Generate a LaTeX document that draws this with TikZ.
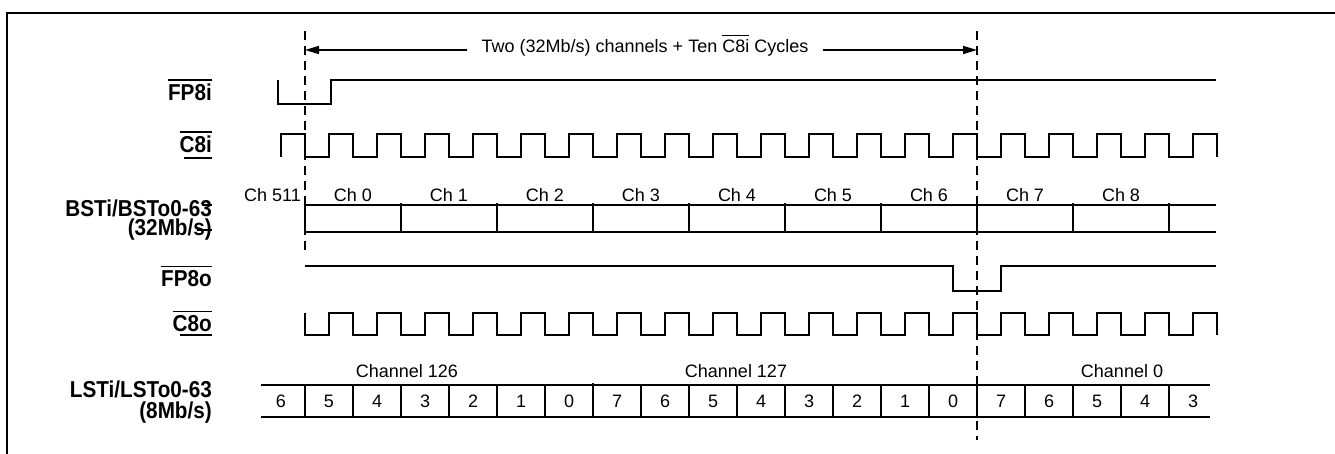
\documentclass[tikz,border=0pt]{standalone}
\usepackage{fontspec}
\setmainfont{Liberation Sans}
\newfontfamily\sigfont[FakeStretch=0.9]{Liberation Sans}
\usetikzlibrary{arrows.meta,positioning}

% overlined signal names
\newcommand{\barred}[2][1.9bp]{\leavevmode\vbox{\hrule height #1\kern 3.5bp\hbox{#2}}}

\begin{document}
\begin{tikzpicture}[x=1bp, y=-1bp]
% STYLES
\tikzset{%
    wave/.style={line width=1.9bp},
    cell/.style={line width=1.6bp},
    marker/.style={line width=1.8bp, dash pattern=on 9bp off 6bp},
    span/.style={line width=1.6bp, -{Triangle[length=14bp,width=8bp]}},
    signame/.style={anchor=base east, inner sep=0pt, align=right,
        font=\sigfont\fontsize{23bp}{19bp}\selectfont\bfseries},
    chname/.style={anchor=base, inner sep=0pt,
        font=\fontsize{18bp}{20bp}\selectfont},
    bit/.style={anchor=base, inner sep=0pt,
        font=\fontsize{18bp}{20bp}\selectfont}
             }
\useasboundingbox (0,0) rectangle (1335,454);
\draw[line width=1.8bp] (7,454) -- (7,13) -- (1335,13);

% Signal names
\node[signame] (fp8i) at (212,101) {\barred{FP8i}};
\node[signame] (c8i) at (212,153) {\barred{C8i}};
\node[signame] (bst) at (212,236) {BSTi/BSTo0-63\\(32Mb/s)};
\node[signame] (fp8o) at (212,287) {\barred{FP8o}};
\node[signame] (c8o) at (212,332) {\barred{C8o}};
\node[signame, font=\sigfont\fontsize{23bp}{21bp}\selectfont\bfseries] (lst) at (212,418) {LSTi/LSTo0-63\\(8Mb/s)};
\draw[wave] (184,158) -- (212,158);
\draw[wave] (180,335) -- (212,335);
\draw[cell] (202,205) -- (212,205);
\draw[cell] (197,230) -- (212,230);

% Span between the two frame marks
\coordinate (spanL) at (305,50);
\coordinate (spanR) at (977,50);
\node[chname, inner xsep=14bp] (span) at (645,53) {Two (32Mb/s) channels + Ten \barred[1.2bp]{C8i} Cycles};
\draw[span] (span.west |- spanL) -- (spanL);
\draw[span] (span.east |- spanR) -- (spanR);
\draw[marker] (305,31) -- (305,250);
\draw[marker] (977,31) -- (977,440);

% Draw waveforms
\draw[wave] (278,80) -- (278,104) -- (331,104) -- (331,80) -- (1216,80);
\draw[wave] (281,157) -- (281,134)
    \foreach \k in {1,...,19} { -- ++(24,0) -- ++(0,23) -- ++(24,0) -- ++(0,-23)}
    -- ++(24,0) -- ++(0,23);
\draw[wave] (305,266) -- (953,266) -- (953,291) -- (1001,291) -- (1001,266) -- (1216,266);
\draw[wave] (305,313) -- (305,335)
    \foreach \k in {1,...,19} { -- ++(24,0) -- ++(0,-22) -- ++(24,0) -- ++(0,22)};

% 32Mb/s channels
\draw[wave] (1216,205) -- (305,205) -- (305,232) -- (1216,232);
\foreach \k in {0,...,8}
    \draw[wave] (401+96*\k,203) -- (401+96*\k,233);
\node[chname, anchor=base east] (ch511) at (301,202) {Ch 511};
\foreach \c in {0,...,8}
    \node[chname] (ch\c) at (353+96*\c,202) {Ch \c};

% 8Mb/s channels
\draw[cell] (261,385) -- (1210,385);
\draw[cell] (261,417) -- (1210,417);
\foreach \k in {0,...,18}
    \draw[cell] (305+48*\k,385) -- (305+48*\k,417);
\draw[wave] (593,383) -- (593,417);
\draw[wave] (977,383) -- (977,417);
\foreach \d [count=\i from 0] in {6,5,4,3,2,1,0,7,6,5,4,3,2,1,0,7,6,5,4,3}
    \node[bit] (bit\i) at (281+48*\i,407) {\d};
\node[chname] (chan126) at (407,377) {Channel 126};
\node[chname] (chan127) at (736,377) {Channel 127};
\node[chname] (chan0) at (1122,377) {Channel 0};
\end{tikzpicture}
\end{document}
